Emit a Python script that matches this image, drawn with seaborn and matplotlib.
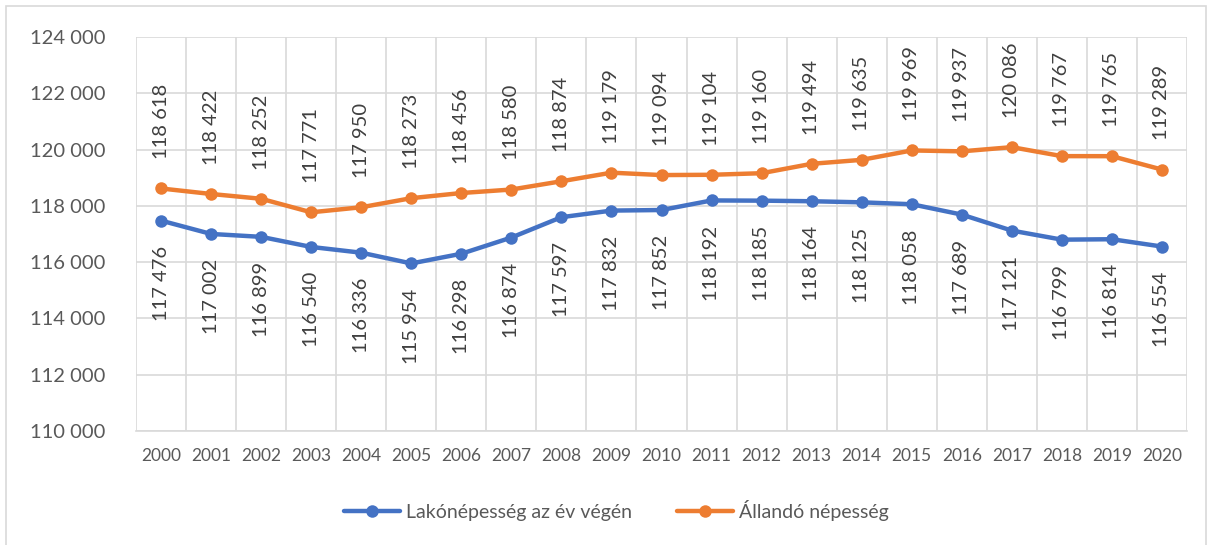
import matplotlib
matplotlib.use("Agg")
import matplotlib.pyplot as plt
import matplotlib.patches as mpatches
from matplotlib.ticker import FuncFormatter, FixedLocator
import pandas as pd
import seaborn as sns

years = list(range(2000, 2021))
lakonepesseg = [117476, 117002, 116899, 116540, 116336, 115954, 116298, 116874, 117597, 117832,
                117852, 118192, 118185, 118164, 118125, 118058, 117689, 117121, 116799, 116814, 116554]
allando = [118618, 118422, 118252, 117771, 117950, 118273, 118456, 118580, 118874, 119179,
           119094, 119104, 119160, 119494, 119635, 119969, 119937, 120086, 119767, 119765, 119289]
series_names = ["Lakónépesség az év végén", "Állandó népesség"]
colors = ["#4472C4", "#ED7D31"]
TEXT = "#595959"
GRID = "#D9D9D9"


def fmt(v):
    return f"{int(v):,}".replace(",", " ")


sns.set_theme(style="white")
plt.rcParams["font.family"] = ["Lato", "DejaVu Sans"]

df = pd.DataFrame({
    "idx": list(range(len(years))) * 2,
    "value": lakonepesseg + allando,
    "series": [series_names[0]] * len(years) + [series_names[1]] * len(years),
})

fig = plt.figure(figsize=(12.13, 5.45), dpi=100)
ax = fig.add_axes([136 / 1213, 1 - 431 / 545, (1187 - 136) / 1213, (431 - 37) / 545])

sns.lineplot(data=df, x="idx", y="value", hue="series", hue_order=series_names,
             palette=colors, marker="o", markersize=9, markeredgewidth=0,
             linewidth=3.2, ax=ax, legend=False)

ax.set_xlim(-0.5, len(years) - 0.5)
ax.set_ylim(110000, 124000)
ax.set_yticks(range(110000, 124001, 2000))
ax.yaxis.set_major_formatter(FuncFormatter(lambda v, p: fmt(v)))
ax.set_xticks(range(len(years)))
ax.set_xticklabels([str(y) for y in years])
ax.xaxis.set_minor_locator(FixedLocator([i - 0.5 for i in range(len(years) + 1)]))
ax.grid(axis="y", which="major", color=GRID, linewidth=1.2)
ax.grid(axis="x", which="minor", color=GRID, linewidth=1.2)
ax.set_axisbelow(True)
for s in ["top", "right", "left"]:
    ax.spines[s].set_visible(False)
ax.spines["bottom"].set_color(GRID)
ax.spines["bottom"].set_linewidth(1.2)
ax.tick_params(axis="both", length=0, colors=TEXT)
ax.tick_params(axis="y", labelsize=14.5, pad=22)
ax.tick_params(axis="x", labelsize=12.5, pad=12)
ax.set_xlabel("")
ax.set_ylabel("")

for i, (b, o) in enumerate(zip(lakonepesseg, allando)):
    ax.annotate(fmt(o), (i, o), xytext=(0, 21), textcoords="offset points",
                rotation=90, ha="center", va="bottom", fontsize=14.5, color="#404040")
    ax.annotate(fmt(b), (i, b), xytext=(0, -18), textcoords="offset points",
                rotation=90, ha="center", va="top", fontsize=14.5, color="#404040")

handles = [plt.Line2D([], [], color=c, linewidth=3.2, marker="o", markersize=9,
                      markeredgewidth=0) for c in colors]
fig.legend(handles, series_names, loc="center", bbox_to_anchor=(0.508, 0.064), ncol=2,
           frameon=False, fontsize=14, labelcolor=TEXT, handlelength=2.9,
           columnspacing=2.3, handletextpad=0.3)

fig.patches.append(mpatches.Rectangle((6 / 1213, -0.02), 1200 / 1213, 1.02 - 6 / 545,
                                      transform=fig.transFigure, fill=False,
                                      edgecolor=GRID, linewidth=1.2))

fig.savefig("out.png", dpi=100, facecolor="white")
